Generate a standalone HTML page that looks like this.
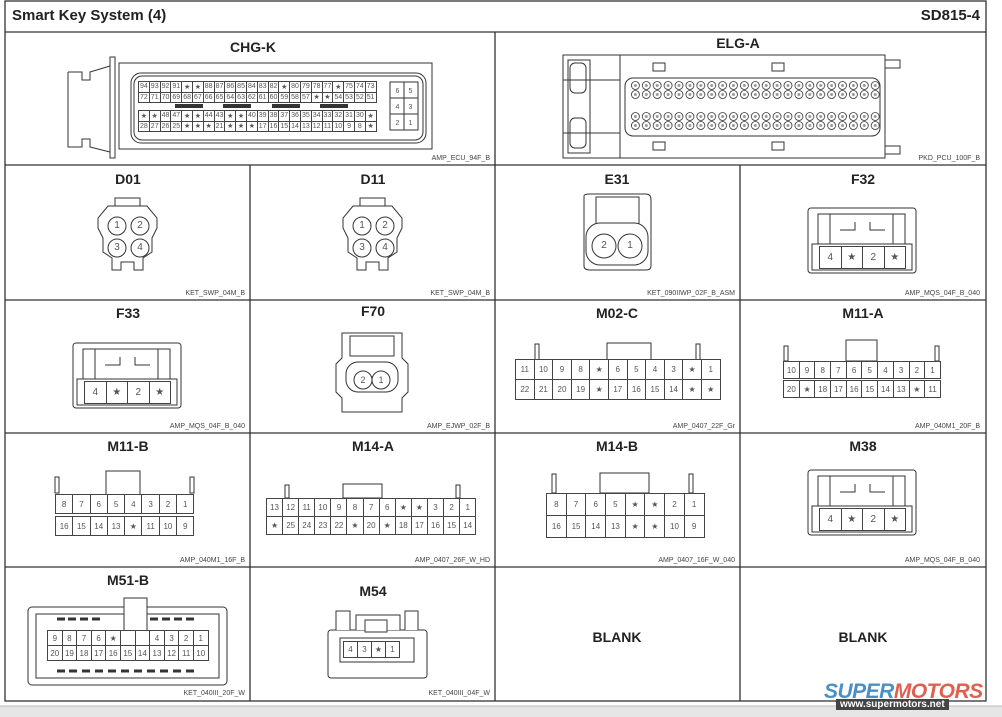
<!DOCTYPE html>
<html><head><meta charset="utf-8">
<style>
body{margin:0;width:1002px;height:717px;background:#fff;position:relative;overflow:hidden;font-family:"Liberation Sans",sans-serif;color:#222}
svg{position:absolute;left:0;top:0}
.g{position:absolute;display:grid;background:#444;gap:1px;padding:1px}
.g i{font-style:normal;background:#fff;display:flex;align-items:center;justify-content:center;color:#555;overflow:hidden}
.t{position:absolute;font-weight:bold;font-size:14px;text-align:center;width:120px;color:#222}
.s{position:absolute;font-size:7px;color:#444;text-align:right}
.n{position:absolute;width:16px;margin-left:-8px;text-align:center;font-size:10px;color:#555;line-height:12px}
</style></head><body>
<svg width="1002" height="717" viewBox="0 0 1002 717">
<rect x="0" y="706" width="1002" height="11" fill="#e6e6e6"/>
<line x1="0" y1="706" x2="1002" y2="706" stroke="#bbb"/>
<g stroke="#333" stroke-width="1.3" fill="none">
<rect x="5" y="1" width="981" height="700"/>
<line x1="5" y1="32" x2="986" y2="32"/>
<line x1="5" y1="165" x2="986" y2="165"/>
<line x1="5" y1="300" x2="986" y2="300"/>
<line x1="5" y1="433" x2="986" y2="433"/>
<line x1="5" y1="567" x2="986" y2="567"/>
<line x1="495" y1="32" x2="495" y2="701"/>
<line x1="250" y1="165" x2="250" y2="701"/>
<line x1="740" y1="165" x2="740" y2="701"/>
</g>
<g stroke="#333" stroke-width="1" fill="none">
<path d="M68 72 H82 V80 H90 V72 L110 66 M68 72 V147 H82 V139 H90 V147 L110 152"/>
<rect x="110" y="57" width="5" height="101"/>
<rect x="119" y="63" width="313" height="86"/>
<rect x="131" y="73" width="295" height="70" rx="10"/>
<rect x="134" y="76" width="289" height="64" rx="8"/>
<rect x="390" y="82" width="28" height="48"/>
<line x1="404" y1="82" x2="404" y2="130"/><line x1="390" y1="98" x2="418" y2="98"/><line x1="390" y1="114" x2="418" y2="114"/>
<path d="M563 55 H620 V158 H563 Z M568 60 H590 V153 H568 Z M563 80 H620 M563 133 H620"/>
<rect x="570" y="63" width="16" height="30" rx="5"/><rect x="570" y="118" width="16" height="30" rx="5"/>
<rect x="620" y="55" width="265" height="103"/>
<rect x="625" y="78" width="255" height="58" rx="8"/>
<path d="M885 60 H900 V68 H885 M885 146 H900 V154 H885"/>
<rect x="653" y="63" width="12" height="8"/><rect x="772" y="63" width="12" height="8"/>
<rect x="653" y="142" width="12" height="8"/><rect x="772" y="142" width="12" height="8"/>
</g>
<defs>
<pattern id="pc" x="630" y="81" width="10.9" height="9" patternUnits="userSpaceOnUse"><circle cx="5.4" cy="4.5" r="4" fill="#fff" stroke="#333" stroke-width="0.8"/><circle cx="5.4" cy="4.5" r="1.5" fill="#999"/></pattern>
<pattern id="pd" x="630" y="112" width="10.9" height="9" patternUnits="userSpaceOnUse"><circle cx="5.4" cy="4.5" r="4" fill="#fff" stroke="#333" stroke-width="0.8"/><circle cx="5.4" cy="4.5" r="1.5" fill="#999"/></pattern>
</defs>
<rect x="630" y="81" width="251" height="18" fill="url(#pc)"/>
<rect x="630" y="112" width="251" height="18" fill="url(#pd)"/>
<g stroke="#333" stroke-width="1" fill="#fff">
<g id="d">
<path d="M115 198 H140 V206 H115 Z"/>
<path d="M108 206 H147 L157 218 V228 L152 238 V252 L143 258 V270 H134 V262 H121 V270 H112 V258 L103 252 V238 L98 228 V218 Z"/>
<circle cx="117" cy="226" r="9"/><circle cx="140" cy="226" r="9"/><circle cx="117" cy="248" r="9"/><circle cx="140" cy="248" r="9"/>
</g>
<use href="#d" x="245"/>
<path d="M584 196 Q584 194 590 194 H646 Q651 194 651 200 V266 Q651 270 646 270 H590 Q584 270 584 266 Z"/>
<rect x="596" y="197" width="43" height="28"/>
<rect x="586" y="223" width="62" height="42" rx="14"/>
<circle cx="604" cy="246" r="12"/><circle cx="630" cy="246" r="12"/>
<g id="f">
<rect x="808" y="208" width="108" height="65" rx="3"/>
<path d="M818 214 H905 V244 H818 Z M830 214 V244 M893 214 V244 M840 230 H855 V222 M870 222 V230 H885"/>
<rect x="812" y="244" width="100" height="26"/>
</g>
<use href="#f" y="262"/>
<use href="#f" x="-735" y="135"/>
<path d="M342 333 H402 V358 L408 364 V392 L402 398 V412 H342 V398 L336 392 V364 L342 358 Z"/>
<rect x="350" y="336" width="44" height="20"/>
<rect x="346" y="362" width="52" height="30" rx="12"/>
<circle cx="363" cy="380" r="9"/><circle cx="381" cy="380" r="9"/>
<rect x="607" y="343" width="44" height="17"/>
<rect x="535" y="344" width="4" height="16"/><rect x="696" y="344" width="4" height="16"/>
<rect x="846" y="340" width="31" height="21"/>
<rect x="784" y="346" width="4" height="15"/><rect x="935" y="346" width="4" height="15"/>
<rect x="106" y="471" width="34" height="24"/>
<rect x="55" y="477" width="4" height="16"/><rect x="190" y="477" width="4" height="16"/>
<rect x="343" y="484" width="39" height="14"/>
<rect x="285" y="485" width="4" height="13"/><rect x="456" y="485" width="4" height="13"/>
<rect x="600" y="473" width="49" height="20"/>
<rect x="552" y="474" width="4" height="19"/><rect x="689" y="474" width="4" height="19"/>
<rect x="28" y="607" width="199" height="78" rx="4"/>
<rect x="36" y="614" width="183" height="64"/>
<rect x="124" y="598" width="23" height="36"/>
<path d="M57 619 h8 M68 619 h8 M80 619 h8 M92 619 h8 M150 619 h8 M162 619 h8 M174 619 h8 M186 619 h8 M57 671 h8 M69 671 h8 M82 671 h8 M95 671 h8 M108 671 h8 M121 671 h8 M134 671 h8 M147 671 h8 M160 671 h8 M173 671 h8 M186 671 h8" stroke-width="3"/>
<rect x="328" y="630" width="99" height="48" rx="3"/>
<path d="M336 630 V611 H350 V630 M405 630 V611 H418 V630 M356 630 V615 H400 V630"/>
<rect x="365" y="620" width="22" height="12"/>
<rect x="340" y="638" width="74" height="24"/>
</g>
</svg>

<div style="position:absolute;left:12px;top:7px;font-weight:bold;font-size:15px">Smart Key System (4)</div>
<div style="position:absolute;left:900px;top:7px;font-weight:bold;font-size:15px;width:80px;text-align:right">SD815-4</div>

<div class="t" style="left:193px;top:39px">CHG-K</div>
<div class="t" style="left:678px;top:35px">ELG-A</div>
<div class="t" style="left:68px;top:171px">D01</div>
<div class="t" style="left:313px;top:171px">D11</div>
<div class="t" style="left:557px;top:171px">E31</div>
<div class="t" style="left:803px;top:171px">F32</div>
<div class="t" style="left:68px;top:305px">F33</div>
<div class="t" style="left:313px;top:303px">F70</div>
<div class="t" style="left:557px;top:305px">M02-C</div>
<div class="t" style="left:803px;top:305px">M11-A</div>
<div class="t" style="left:68px;top:438px">M11-B</div>
<div class="t" style="left:313px;top:438px">M14-A</div>
<div class="t" style="left:557px;top:438px">M14-B</div>
<div class="t" style="left:803px;top:438px">M38</div>
<div class="t" style="left:68px;top:572px">M51-B</div>
<div class="t" style="left:313px;top:583px">M54</div>
<div class="t" style="left:557px;top:629px">BLANK</div>
<div class="t" style="left:803px;top:629px">BLANK</div>

<div class="s" style="left:380px;top:155px;width:110px">AMP_ECU_94F_B</div>
<div class="s" style="left:870px;top:155px;width:110px">PKD_PCU_100F_B</div>
<div class="s" style="left:135px;top:290px;width:110px">KET_SWP_04M_B</div>
<div class="s" style="left:380px;top:290px;width:110px">KET_SWP_04M_B</div>
<div class="s" style="left:625px;top:290px;width:110px">KET_090IIWP_02F_B_ASM</div>
<div class="s" style="left:870px;top:290px;width:110px">AMP_MQS_04F_B_040</div>
<div class="s" style="left:135px;top:423px;width:110px">AMP_MQS_04F_B_040</div>
<div class="s" style="left:380px;top:423px;width:110px">AMP_EJWP_02F_B</div>
<div class="s" style="left:625px;top:423px;width:110px">AMP_0407_22F_Gr</div>
<div class="s" style="left:870px;top:423px;width:110px">AMP_040M1_20F_B</div>
<div class="s" style="left:135px;top:557px;width:110px">AMP_040M1_16F_B</div>
<div class="s" style="left:380px;top:557px;width:110px">AMP_0407_26F_W_HD</div>
<div class="s" style="left:625px;top:557px;width:110px">AMP_0407_16F_W_040</div>
<div class="s" style="left:870px;top:557px;width:110px">AMP_MQS_04F_B_040</div>
<div class="s" style="left:135px;top:690px;width:110px">KET_040III_20F_W</div>
<div class="s" style="left:380px;top:690px;width:110px">KET_040III_04F_W</div>

<div class="g" style="left:138px;top:81px;grid-template-columns:repeat(22,9.8px);grid-template-rows:repeat(2,9.5px);font-size:7px">
<i>94</i><i>93</i><i>92</i><i>91</i><i>★</i><i>★</i><i>88</i><i>87</i><i>86</i><i>85</i><i>84</i><i>83</i><i>82</i><i>★</i><i>80</i><i>79</i><i>78</i><i>77</i><i>★</i><i>75</i><i>74</i><i>73</i>
<i>72</i><i>71</i><i>70</i><i>69</i><i>68</i><i>67</i><i>66</i><i>65</i><i>64</i><i>63</i><i>62</i><i>61</i><i>60</i><i>59</i><i>58</i><i>57</i><i>★</i><i>★</i><i>54</i><i>53</i><i>52</i><i>51</i></div>
<div class="g" style="left:138px;top:110px;grid-template-columns:repeat(22,9.8px);grid-template-rows:repeat(2,9.5px);font-size:7px">
<i>★</i><i>★</i><i>48</i><i>47</i><i>★</i><i>★</i><i>44</i><i>43</i><i>★</i><i>★</i><i>40</i><i>39</i><i>38</i><i>37</i><i>36</i><i>35</i><i>34</i><i>33</i><i>32</i><i>31</i><i>30</i><i>★</i>
<i>28</i><i>27</i><i>26</i><i>25</i><i>★</i><i>★</i><i>★</i><i>21</i><i>★</i><i>★</i><i>★</i><i>17</i><i>16</i><i>15</i><i>14</i><i>13</i><i>12</i><i>11</i><i>10</i><i>9</i><i>8</i><i>★</i></div>
<div style="position:absolute;left:391px;top:84px;width:26px;font-size:7px;color:#555;line-height:16px;display:grid;grid-template-columns:1fr 1fr;text-align:center"><span>6</span><span>5</span><span>4</span><span>3</span><span>2</span><span>1</span></div>
<div style="position:absolute;left:175px;top:104px;width:28px;height:4px;background:#333"></div>
<div style="position:absolute;left:223px;top:104px;width:28px;height:4px;background:#333"></div>
<div style="position:absolute;left:272px;top:104px;width:28px;height:4px;background:#333"></div>
<div style="position:absolute;left:320px;top:104px;width:28px;height:4px;background:#333"></div>

<div class="n" style="left:117px;top:220px">1</div><div class="n" style="left:140px;top:220px">2</div>
<div class="n" style="left:117px;top:242px">3</div><div class="n" style="left:140px;top:242px">4</div>
<div class="n" style="left:362px;top:220px">1</div><div class="n" style="left:385px;top:220px">2</div>
<div class="n" style="left:362px;top:242px">3</div><div class="n" style="left:385px;top:242px">4</div>
<div class="n" style="left:604px;top:240px">2</div><div class="n" style="left:630px;top:240px">1</div>
<div class="n" style="left:363px;top:374px;font-size:9px">2</div><div class="n" style="left:381px;top:374px;font-size:9px">1</div>

<div class="g" style="left:819px;top:246px;grid-template-columns:repeat(4,20.5px);grid-template-rows:21px;font-size:10px"><i>4</i><i>★</i><i>2</i><i>★</i></div>
<div class="g" style="left:819px;top:508px;grid-template-columns:repeat(4,20.5px);grid-template-rows:21px;font-size:10px"><i>4</i><i>★</i><i>2</i><i>★</i></div>
<div class="g" style="left:84px;top:381px;grid-template-columns:repeat(4,20.5px);grid-template-rows:21px;font-size:10px"><i>4</i><i>★</i><i>2</i><i>★</i></div>

<div class="g" style="left:515px;top:359px;grid-template-columns:repeat(11,17.6px);grid-template-rows:repeat(2,19px);font-size:8px">
<i>11</i><i>10</i><i>9</i><i>8</i><i>★</i><i>6</i><i>5</i><i>4</i><i>3</i><i>★</i><i>1</i>
<i>22</i><i>21</i><i>20</i><i>19</i><i>★</i><i>17</i><i>16</i><i>15</i><i>14</i><i>★</i><i>★</i></div>
<div class="g" style="left:783px;top:361px;grid-template-columns:repeat(10,14.7px);grid-template-rows:16px;font-size:8px">
<i>10</i><i>9</i><i>8</i><i>7</i><i>6</i><i>5</i><i>4</i><i>3</i><i>2</i><i>1</i></div>
<div class="g" style="left:783px;top:380px;grid-template-columns:repeat(10,14.7px);grid-template-rows:16px;font-size:8px">
<i>20</i><i>★</i><i>18</i><i>17</i><i>16</i><i>15</i><i>14</i><i>13</i><i>★</i><i>11</i></div>
<div class="g" style="left:55px;top:494px;grid-template-columns:repeat(8,16.3px);grid-template-rows:18px;font-size:8px">
<i>8</i><i>7</i><i>6</i><i>5</i><i>4</i><i>3</i><i>2</i><i>1</i></div>
<div class="g" style="left:55px;top:516px;grid-template-columns:repeat(8,16.3px);grid-template-rows:18px;font-size:8px">
<i>16</i><i>15</i><i>14</i><i>13</i><i>★</i><i>11</i><i>10</i><i>9</i></div>
<div class="g" style="left:266px;top:498px;grid-template-columns:repeat(13,15.1px);grid-template-rows:repeat(2,17px);font-size:8px">
<i>13</i><i>12</i><i>11</i><i>10</i><i>9</i><i>8</i><i>7</i><i>6</i><i>★</i><i>★</i><i>3</i><i>2</i><i>1</i>
<i>★</i><i>25</i><i>24</i><i>23</i><i>22</i><i>★</i><i>20</i><i>★</i><i>18</i><i>17</i><i>16</i><i>15</i><i>14</i></div>
<div class="g" style="left:546px;top:493px;grid-template-columns:repeat(8,18.7px);grid-template-rows:repeat(2,21px);font-size:8px">
<i>8</i><i>7</i><i>6</i><i>5</i><i>★</i><i>★</i><i>2</i><i>1</i>
<i>16</i><i>15</i><i>14</i><i>13</i><i>★</i><i>★</i><i>10</i><i>9</i></div>
<div class="g" style="left:47px;top:630px;grid-template-columns:repeat(11,13.6px);grid-template-rows:repeat(2,14px);font-size:8px">
<i>9</i><i>8</i><i>7</i><i>6</i><i>★</i><i></i><i></i><i>4</i><i>3</i><i>2</i><i>1</i>
<i>20</i><i>19</i><i>18</i><i>17</i><i>16</i><i>15</i><i>14</i><i>13</i><i>12</i><i>11</i><i>10</i></div>
<div class="g" style="left:343px;top:641px;grid-template-columns:repeat(4,13px);grid-template-rows:15px;font-size:8px"><i>4</i><i>3</i><i>★</i><i>1</i></div>

<div style="position:absolute;left:824px;top:680px;font-weight:bold;font-style:italic;font-size:21px;letter-spacing:-0.5px"><span style="color:#4a90c8">SUPER</span><span style="color:#e06050">MOTORS</span></div>
<div style="position:absolute;left:836px;top:699px;background:#444;color:#fff;font-weight:bold;font-size:10px;padding:0 4px">www.supermotors.net</div>
</body></html>
